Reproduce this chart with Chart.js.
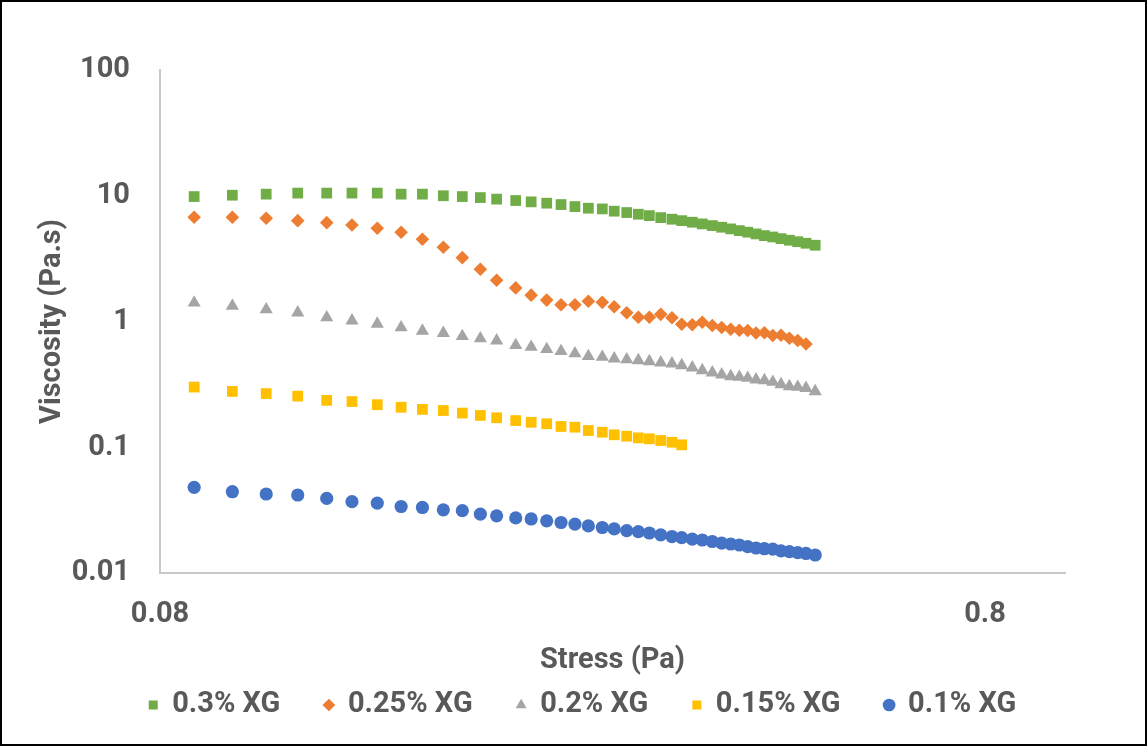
<!DOCTYPE html>
<html>
<head>
<meta charset="utf-8">
<script src="https://cdn.jsdelivr.net/npm/chart.js@4.4.1/dist/chart.umd.min.js"></script>
<style>
  html, body { margin: 0; padding: 0; background: #ffffff; }
  #wrap { width: 1147px; height: 746px; position: relative; }
  canvas { display: block; }
</style>
</head>
<body>
<div id="wrap"><canvas id="c" width="1147" height="746"></canvas></div>
<script>
// ---- data ----
const SERIES_LABELS = ['0.3% XG', '0.25% XG', '0.2% XG', '0.15% XG', '0.1% XG'];
const X_TICKS = [0.08, 0.8];
const Y_TICKS = [0.01, 0.1, 1, 10, 100];

const STRESS = [0.0880, 0.0979, 0.1076, 0.1175, 0.1274, 0.1367, 0.1467, 0.1568, 0.1664, 0.1764,
                0.1860, 0.1956, 0.2047, 0.2159, 0.2254, 0.2354, 0.2450, 0.2547, 0.2644, 0.2749,
                0.2842, 0.2943, 0.3040, 0.3135, 0.3236, 0.3339, 0.3431, 0.3534, 0.3634, 0.3737,
                0.3836, 0.3934, 0.4030, 0.4125, 0.4222, 0.4322, 0.4424, 0.4527, 0.4634, 0.4743,
                0.4854, 0.4980];

const VISC_03 = [9.85, 10.1, 10.3, 10.5, 10.5, 10.5, 10.5, 10.3, 10.3, 10.0,
                 9.85, 9.67, 9.40, 9.16, 8.94, 8.73, 8.51, 8.20, 7.96, 7.86,
                 7.54, 7.35, 7.13, 6.95, 6.70, 6.51, 6.34, 6.16, 5.97, 5.79,
                 5.62, 5.45, 5.28, 5.13, 4.97, 4.82, 4.70, 4.56, 4.43, 4.31,
                 4.19, 4.04];
const VISC_025 = [6.75, 6.75, 6.63, 6.34, 6.11, 5.86, 5.52, 5.13, 4.51, 3.89,
                  3.22, 2.60, 2.13, 1.85, 1.62, 1.48, 1.36, 1.36, 1.45, 1.42,
                  1.31, 1.175, 1.08, 1.08, 1.14, 1.07, 0.952, 0.943, 0.987, 0.929,
                  0.896, 0.868, 0.852, 0.848, 0.810, 0.814, 0.773, 0.777, 0.736, 0.706,
                  0.663];
const VISC_02 = [1.41, 1.33, 1.246, 1.175, 1.076, 1.015, 0.957, 0.896, 0.841, 0.807,
                 0.763, 0.732, 0.704, 0.647, 0.627, 0.601, 0.580, 0.556, 0.529, 0.522,
                 0.507, 0.498, 0.491, 0.482, 0.471, 0.462, 0.448, 0.430, 0.409, 0.392,
                 0.378, 0.366, 0.362, 0.355, 0.345, 0.340, 0.330, 0.316, 0.305, 0.301,
                 0.295, 0.278];
const VISC_015 = [0.301, 0.278, 0.267, 0.255, 0.236, 0.231, 0.218, 0.208, 0.200, 0.196,
                  0.187, 0.179, 0.1715, 0.163, 0.158, 0.1537, 0.1463, 0.1444, 0.1359, 0.1317,
                  0.1256, 0.1224, 0.1188, 0.1167, 0.1131, 0.1096, 0.1045];
const VISC_01 = [0.0480, 0.0443, 0.0425, 0.0417, 0.0392, 0.0369, 0.0360, 0.0338, 0.0332, 0.0318,
                 0.0313, 0.0294, 0.0285, 0.0274, 0.0269, 0.0260, 0.0252, 0.0245, 0.0237, 0.0230,
                 0.0224, 0.0217, 0.0213, 0.0208, 0.0201, 0.0195, 0.0191, 0.0186, 0.0183, 0.0178,
                 0.0173, 0.0170, 0.0167, 0.0162, 0.0158, 0.0156, 0.0155, 0.0150, 0.0148, 0.0145,
                 0.0143, 0.0139];

// ---- styling ----
const COLORS = ['#70AD47', '#ED7D31', '#A5A5A5', '#FFC000', '#4472C4'];
const STYLES = ['rect', 'rectRot', 'triangle', 'rect', 'circle'];
const RADII = [7.6, 6.8, 7.6, 7.6, 6.6];
const TEXT = '#595959';
const FONT = 'Roboto, "Liberation Sans", sans-serif';

function pts(vals) { return vals.map((v, i) => ({ x: STRESS[i], y: v })); }
const ALL = [VISC_03, VISC_025, VISC_02, VISC_015, VISC_01];

const datasets = ALL.map((vals, k) => ({
  label: SERIES_LABELS[k],
  data: pts(vals),
  showLine: false,
  pointStyle: STYLES[k],
  pointRadius: RADII[k],
  pointHoverRadius: RADII[k],
  backgroundColor: COLORS[k],
  borderColor: COLORS[k],
  pointBorderWidth: 0,
  borderWidth: 0
}));

const framePlugin = {
  id: 'frame',
  beforeDraw(chart) {
    const ctx = chart.ctx;
    ctx.save();
    ctx.fillStyle = '#ffffff';
    ctx.fillRect(0, 0, chart.width, chart.height);
    ctx.restore();
  },
  afterLayout(chart) {
    // centre the legend row under the whole figure like the original
    const lg = chart.legend;
    if (lg) { lg.left += 32.5; lg.right += 32.5; }
  },
  afterDraw(chart) {
    const ctx = chart.ctx;
    ctx.save();
    ctx.strokeStyle = '#000000';
    ctx.lineWidth = 2;
    ctx.strokeRect(1, 1, chart.width - 2, chart.height - 2);
    ctx.restore();
  }
};

new Chart(document.getElementById('c'), {
  type: 'scatter',
  data: { datasets },
  plugins: [framePlugin],
  options: {
    responsive: false,
    animation: false,
    layout: { padding: { left: 35, right: 82, top: 70, bottom: 16.5 } },
    plugins: {
      tooltip: { enabled: false },
      legend: {
        position: 'bottom',
        labels: {
          usePointStyle: true,
          boxWidth: 9,
          boxHeight: 9,
          padding: 44,
          color: TEXT,
          font: { family: FONT, size: 29, weight: 'bold' }
        }
      }
    },
    scales: {
      x: {
        type: 'logarithmic',
        min: 0.08,
        max: 1,
        afterBuildTicks: (s) => { s.ticks = X_TICKS.map(v => ({ value: v })); },
        afterFit: (s) => { s.height = 73.5; },
        grid: { display: false, drawTicks: false },
        border: { display: true, color: '#C8C8C8', width: 2 },
        ticks: {
          padding: 24,
          color: TEXT,
          maxRotation: 0,
          autoSkip: false,
          font: { family: FONT, size: 29, weight: 'bold' },
          callback: (v) => String(v)
        },
        title: {
          display: true,
          text: 'Stress (Pa)',
          color: TEXT,
          font: { family: FONT, size: 29, weight: 'bold' },
          padding: { top: 0, bottom: -32 }
        }
      },
      y: {
        type: 'logarithmic',
        min: 0.01,
        max: 100,
        afterBuildTicks: (s) => { s.ticks = Y_TICKS.map(v => ({ value: v })); },
        afterFit: (s) => { s.width = 125; },
        grid: { display: false, drawTicks: false },
        border: { display: true, color: '#C8C8C8', width: 2 },
        ticks: {
          padding: 30,
          color: TEXT,
          autoSkip: false,
          font: { family: FONT, size: 29, weight: 'bold' },
          callback: (v) => String(v)
        },
        title: {
          display: true,
          text: 'Viscosity (Pa.s)',
          color: TEXT,
          font: { family: FONT, size: 29, weight: 'bold' },
          padding: { top: 0, bottom: 0 }
        }
      }
    }
  }
});
</script>
</body>
</html>
